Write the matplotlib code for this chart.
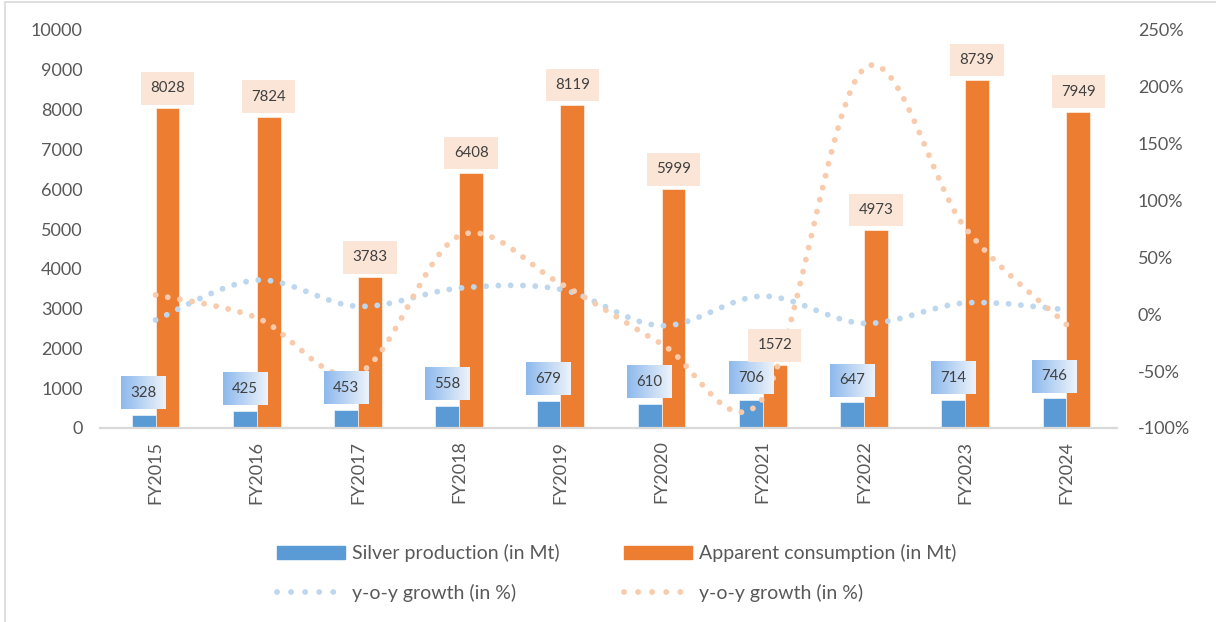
import matplotlib
matplotlib.use('Agg')
import matplotlib.pyplot as plt
import numpy as np
from matplotlib import ticker
from matplotlib.path import Path
from matplotlib.patches import PathPatch, Patch, Rectangle
from matplotlib.lines import Line2D

plt.rcParams['font.family'] = ['Lato', 'DejaVu Sans']

years = ['FY2015', 'FY2016', 'FY2017', 'FY2018', 'FY2019',
         'FY2020', 'FY2021', 'FY2022', 'FY2023', 'FY2024']
production = [328, 425, 453, 558, 679, 610, 706, 647, 714, 746]
consumption = [8028, 7824, 3783, 6408, 8119, 5999, 1572, 4973, 8739, 7949]
prod_growth = [-5, 30, 7, 23, 22, -10, 16, -8, 10, 4]
cons_growth = [17, -3, -52, 69, 27, -26, -74, 216, 76, -9]

BLUE = '#5B9BD5'
ORANGE = '#ED7D31'
LIGHT_BLUE = '#BDD7EE'
LIGHT_ORANGE = '#F8CBAD'
TXT = '#595959'


def smooth_path(xs, ys):
    # Catmull-Rom style bezier through every point (like a "smoothed line")
    n = len(xs)
    verts = [(xs[0], ys[0])]
    codes = [Path.MOVETO]
    for i in range(n - 1):
        a, b = max(i - 1, 0), min(i + 2, n - 1)
        c1 = (xs[i] + (xs[i + 1] - xs[a]) / 6, ys[i] + (ys[i + 1] - ys[a]) / 6)
        c2 = (xs[i + 1] - (xs[b] - xs[i]) / 6, ys[i + 1] - (ys[b] - ys[i]) / 6)
        verts += [c1, c2, (xs[i + 1], ys[i + 1])]
        codes += [Path.CURVE4] * 3
    return Path(verts, codes)


fig = plt.figure(figsize=(12.16, 6.22), dpi=100)
ax = fig.add_axes([105 / 1216, 1 - 428 / 622, 1012 / 1216, 398 / 622])
ax2 = ax.twinx()

x = np.arange(len(years))
w = 0.236
ax.bar(x - w / 2, production, w, color=BLUE, edgecolor='white', linewidth=0.4, zorder=2)
ax.bar(x + w / 2, consumption, w, color=ORANGE, edgecolor='white', linewidth=0.4, zorder=2)

ax.set_xlim(-0.5, len(years) - 0.5)
ax.set_ylim(0, 10000)
ax.yaxis.set_major_locator(ticker.MultipleLocator(1000))
ax.set_xticks(x)
ax.set_xticklabels(years, rotation=90, fontsize=13, color=TXT)
ax.tick_params(axis='both', length=0, labelsize=13, labelcolor=TXT)
ax.tick_params(axis='x', pad=9)
ax.tick_params(axis='y', pad=16)
for s in ['top', 'left', 'right']:
    ax.spines[s].set_visible(False)
ax.spines['bottom'].set_color('#D9D9D9')
ax.spines['bottom'].set_linewidth(1.6)
ax.spines['bottom'].set_bounds(-0.55, len(years) - 0.5)

# growth curves on the secondary axis
dots = (0, (0.01, 2.1))
for vals, col in [(prod_growth, LIGHT_BLUE), (cons_growth, LIGHT_ORANGE)]:
    pp = PathPatch(smooth_path(list(x), vals), fill=False, edgecolor=col,
                   linewidth=4.2, linestyle=dots, capstyle='round', zorder=2)
    ax2.add_patch(pp)

ax2.set_ylim(-100, 250)
ax2.yaxis.set_major_locator(ticker.MultipleLocator(50))
ax2.yaxis.set_major_formatter(ticker.FuncFormatter(lambda v, p: '{:.0f}%'.format(v)))
ax2.tick_params(axis='y', length=0, labelsize=13, labelcolor=TXT, pad=15)
for s in ax2.spines.values():
    s.set_visible(False)

# value labels
for xi, v in zip(x, consumption):
    ax2.annotate(str(v), (xi + w / 2, v), xycoords=ax.transData, xytext=(0, 20),
                 textcoords='offset pixels', ha='center', va='center', fontsize=10.8,
                 color='#404040', zorder=5,
                 bbox=dict(boxstyle='square,pad=0.62', fc='#FBE5D6', ec='none'))
blue_labels = []
for xi, v in zip(x, production):
    t = ax2.annotate(str(v), (xi - w / 2, v), xycoords=ax.transData, xytext=(0, 22),
                     textcoords='offset pixels', ha='center', va='center', fontsize=10.8,
                     color='#404040', zorder=5,
                     bbox=dict(boxstyle='square,pad=0.62', fc='none', ec='none'))
    blue_labels.append(t)

# gradient fill behind the production labels
fig.canvas.draw()
grad = np.linspace(0, 1, 64)[None, :]
c0 = np.array(matplotlib.colors.to_rgb('#8DB9EC'))
c1 = np.array(matplotlib.colors.to_rgb('#EDF3FB'))
img = c0[None, None, :] * (1 - grad[..., None]) + c1[None, None, :] * grad[..., None]
inv = ax2.transData.inverted()
for t in blue_labels:
    bb = t.get_bbox_patch().get_window_extent()
    (x0, y0), (x1, y1) = inv.transform([(bb.x0, bb.y0), (bb.x1, bb.y1)])
    ax2.imshow(img, extent=(x0, x1, y0, y1), aspect='auto', zorder=4,
               interpolation='bilinear')
ax2.set_xlim(-0.5, len(years) - 0.5)
ax2.set_ylim(-100, 250)

leg_dots = (0, (0.01, 2.4))
handles = [Patch(color=BLUE),
           Line2D([0], [0], color=LIGHT_BLUE, lw=4.2, linestyle=leg_dots, dash_capstyle='round'),
           Patch(color=ORANGE),
           Line2D([0], [0], color=LIGHT_ORANGE, lw=4.2, linestyle=leg_dots, dash_capstyle='round')]
labels = ['Silver production (in Mt)', 'y-o-y growth (in %)',
          'Apparent consumption (in Mt)', 'y-o-y growth (in %)']
leg = fig.legend(handles, labels, ncol=2, loc='center', bbox_to_anchor=(0.507, 1 - 573 / 622),
                 frameon=False, fontsize=14, handlelength=3.5, handleheight=0.6,
                 handletextpad=0.35, columnspacing=3.3, labelspacing=1.1)
for txt in leg.get_texts():
    txt.set_color(TXT)

fig.patches.append(Rectangle((4.5 / 1216, -0.05), 1.2, 1.05 - 2.5 / 622,
                             transform=fig.transFigure, fill=False,
                             edgecolor='#D9D9D9', linewidth=1.2))

fig.savefig('out.png', dpi=100)
